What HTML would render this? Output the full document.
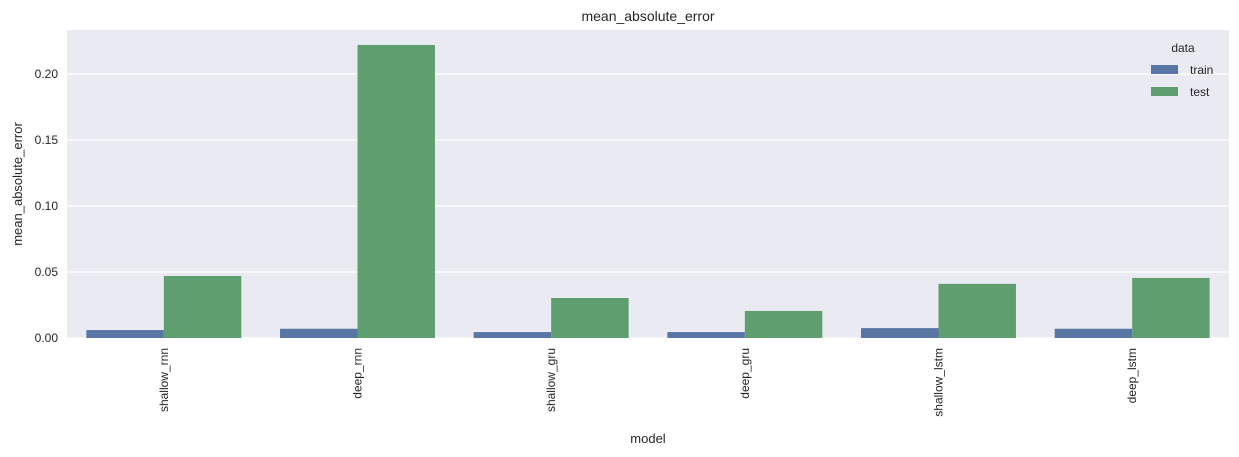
<!DOCTYPE html>
<html><head><meta charset="utf-8"><style>
body{margin:0;background:#fff;}
svg{display:block;font-family:"Liberation Sans",sans-serif;}
</style></head><body>
<svg id="chart" width="1239" height="457"></svg>
<script>
const categories=["shallow_rnn","deep_rnn","shallow_gru","deep_gru","shallow_lstm","deep_lstm"];
const trainValues=[0.006,0.007,0.0045,0.0045,0.0075,0.007];
const testValues=[0.047,0.222,0.0303,0.0205,0.041,0.0455];
const yTicks=[0,0.05,0.10,0.15,0.20];
const yTickLabels=["0.00","0.05","0.10","0.15","0.20"];
const NS="http://www.w3.org/2000/svg";
const svg=document.getElementById('chart');
const L=67,R=1229,T=30,B=338;
const y=v=>B-v*1320;
const bw=(R-L)/categories.length;
const x=i=>L+bw*i;
function mk(tag,attrs,parent){const e=document.createElementNS(NS,tag);for(const k in attrs)e.setAttribute(k,attrs[k]);(parent||svg).appendChild(e);return e;}
const bg=mk('rect',{x:L,y:T,width:R-L,height:B-T,fill:'#eaeaf2'});


yTicks.forEach((t,i)=>{
 const g=mk('line',{x1:L,x2:R,y1:y(t),y2:y(t),stroke:'#fff','stroke-width':1.2});
 
 
 const lb=mk('text',{x:L-9,y:y(t)+4,'text-anchor':'end','font-size':12,fill:'#262626'});
 lb.textContent=yTickLabels[i];
 
 
});
categories.forEach((c,i)=>{
 const gw=bw*0.8,b=gw/2,x0=x(i)+bw*0.1;
 const r1=mk('rect',{x:x0,y:y(trainValues[i]),width:b,height:B-y(trainValues[i]),fill:'#5875a4'});
 
 
 const r2=mk('rect',{x:x0+b,y:y(testValues[i]),width:b,height:B-y(testValues[i]),fill:'#5f9e6e'});
 
 
 const cx=x(i)+bw/2;
 const t=mk('text',{x:0,y:0,'text-anchor':'end','font-size':12,fill:'#262626',transform:`translate(${cx+4},${B+10}) rotate(-90)`});
 t.textContent=c;
 
 
});
let e;
e=mk('text',{x:(L+R)/2,y:21,'text-anchor':'middle','font-size':14,fill:'#262626'});e.textContent='mean_absolute_error';


e=mk('text',{x:(L+R)/2,y:443,'text-anchor':'middle','font-size':13,fill:'#262626'});e.textContent='model';


e=mk('text',{x:0,y:0,'text-anchor':'middle','font-size':13,fill:'#262626',transform:`translate(22,${(T+B)/2}) rotate(-90)`});e.textContent='mean_absolute_error';


const lg=mk('g',{});


e=mk('text',{x:1183,y:52,'text-anchor':'middle','font-size':12,fill:'#262626'},lg);e.textContent='data';


[['train','#5875a4',65],['test','#5f9e6e',87]].forEach(([n,c,yy])=>{
 const r=mk('rect',{x:1151,y:yy,width:27,height:9,fill:c},lg);
 
 
 const t=mk('text',{x:1190,y:yy+9,'font-size':12,fill:'#262626'},lg);t.textContent=n;
 
 
});
</script>
</body></html>
